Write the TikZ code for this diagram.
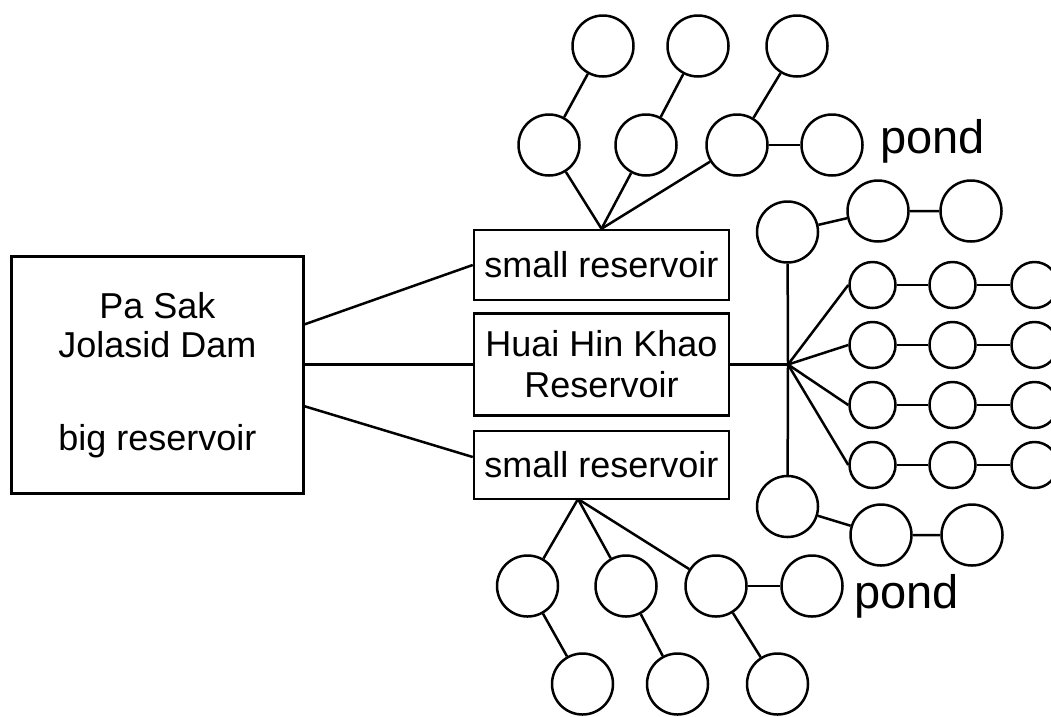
\documentclass[tikz,border=0pt]{standalone}
\usepackage{fontspec}
\setmainfont{Liberation Sans}
\usetikzlibrary{calc}
\newcommand{\resfont}{\fontsize{36}{41}\selectfont}
\newcommand{\pondfont}{\fontsize{47}{56}\selectfont}

\begin{document}
\begin{tikzpicture}[x=1pt, y=-1pt, line width=2.5pt,
	resbox/.style={draw, rectangle, inner sep=0pt, align=center, font=\resfont},
	pool/.style={draw, circle, inner sep=0pt, minimum size=61pt},
	minipool/.style={draw, circle, inner sep=0pt, minimum size=46pt}]
	\clip (0,0) rectangle (1051,716);
	
	% ================= reservoirs =================
	\node[resbox, minimum width=292pt, minimum height=237pt] (dam) at (157.5,375)
		{Pa Sak\\[-2pt] Jolasid Dam\\[52pt] big reservoir};
	\node[resbox, minimum width=255pt, minimum height=70pt] (rtop) at (601.5,265) {small reservoir};
	\node[resbox, minimum width=255pt, minimum height=102pt] (huai) at (601.5,364.5) {Huai Hin Khao\\ Reservoir};
	\node[resbox, minimum width=255pt, minimum height=68pt] (rbot) at (601.5,465) {small reservoir};
	
	\draw (dam.19) -- (rtop.west);
	\draw (dam.east |- huai.west) -- (huai.west);
	\draw (dam.-12) -- ($(rbot.west)+(0,-8)$);
	
	% ================= upper ponds =================
	\node[pool] (m1) at (549,145) {};
	\node[pool] (m2) at (646,145) {};
	\node[pool] (m3) at (737,145) {};
	\node[pool] (tpond) at (832,145) {};
	\node[pool] (u1) at (603,46) {};
	\node[pool] (u2) at (698,46) {};
	\node[pool] (u3) at (797,46) {};
	\node[anchor=base west, inner sep=0pt, font=\pondfont] (tlabel) at (879,153) {pond};
	
	\draw (rtop.north) -- (m1);
	\draw (rtop.north) -- (m2);
	\draw (rtop.north) -- (m3);
	\draw (m1) -- (u1);
	\draw (m2) -- (u2);
	\draw (m3) -- (u3);
	\draw (m3) -- (tpond);
	
	% ================= ponds fed by Huai Hin Khao =================
	\coordinate (hub) at (788,364.5);
	\draw (huai.east) -- (hub);
	
	\node[pool] (a1) at (787.5,232) {};
	\node[pool] (a2) at (878,211) {};
	\node[pool] (a3) at (971,211) {};
	\draw (hub) -- (a1);
	\draw (a1) -- (a2) -- (a3);
	
	\foreach \row/\yy in {1/285, 2/345, 3/405, 4/465} {
		\node[minipool] (c\row a) at (872.5,\yy) {};
		\node[minipool] (c\row b) at (952.5,\yy) {};
		\node[minipool] (c\row c) at (1034.5,\yy) {};
		\draw (hub) -- (c\row a.west);
		\draw (c\row a) -- (c\row b) -- (c\row c);
	}
	
	\node[pool] (b1) at (787.5,506.5) {};
	\node[pool] (b2) at (881,535) {};
	\node[pool] (b3) at (972,535) {};
	\draw (hub) -- (b1);
	\draw (b1) -- (b2) -- (b3);
	
	% ================= lower ponds =================
	\coordinate (bapex) at (578,499);
	\node[pool] (p1) at (527.5,586) {};
	\node[pool] (p2) at (626,586) {};
	\node[pool] (p3) at (716,586) {};
	\node[pool] (bpond) at (812,586) {};
	\node[pool] (q1) at (582.5,684) {};
	\node[pool] (q2) at (677.5,684) {};
	\node[pool] (q3) at (777.5,684) {};
	\node[anchor=base west, inner sep=0pt, font=\pondfont] (blabel) at (853,608) {pond};
	
	\draw (bapex) -- (p1);
	\draw (bapex) -- (p2);
	\draw (bapex) -- (p3);
	\draw (p1) -- (q1);
	\draw (p2) -- (q2);
	\draw (p3) -- (q3);
	\draw (p3) -- (bpond);
\end{tikzpicture}
\end{document}
